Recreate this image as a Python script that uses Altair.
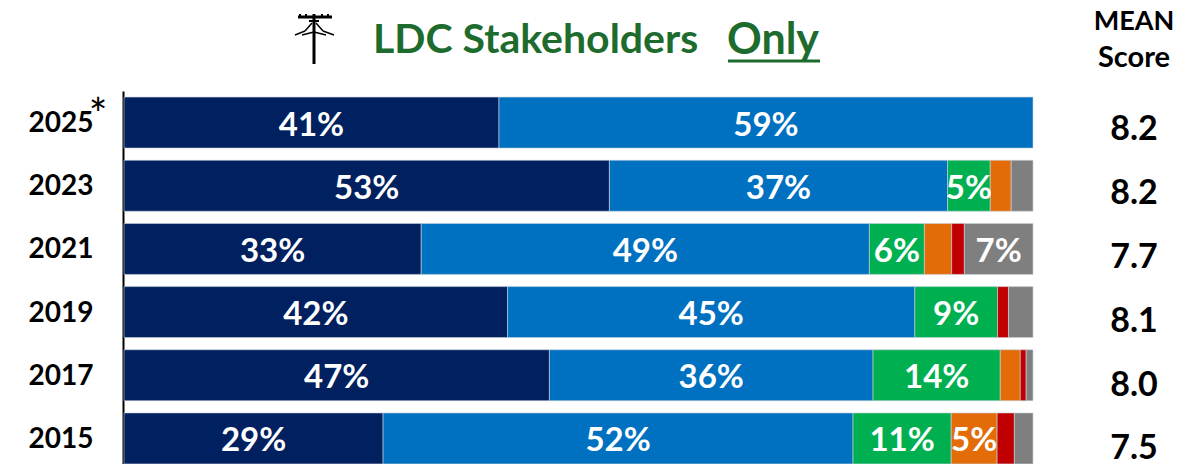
import altair as alt
import pandas as pd

years = ["2025", "2023", "2021", "2019", "2017", "2015"]
means = ["8.2", "8.2", "7.7", "8.1", "8.0", "7.5"]
cats = ["a", "b", "c", "d", "e", "f"]
colors = ["#002060", "#0070C0", "#00B050", "#E36C09", "#C00000", "#7F7F7F"]
v2025 = [41.25, 58.75, 0, 0, 0, 0]
v2023 = [53.4, 37.2, 4.7, 2.3, 0, 2.4]
v2021 = [32.7, 49.3, 6.05, 3.0, 1.4, 7.55]
v2019 = [42.2, 44.8, 9.1, 0, 1.2, 2.7]
v2017 = [46.8, 35.6, 14.0, 2.2, 0.65, 0.75]
v2015 = [28.5, 51.7, 10.8, 5.05, 1.9, 2.05]
l2025 = ["41%", "59%", "", "", "", ""]
l2023 = ["53%", "37%", "5%", "", "", ""]
l2021 = ["33%", "49%", "6%", "", "", "7%"]
l2019 = ["42%", "45%", "9%", "", "", ""]
l2017 = ["47%", "36%", "14%", "", "", ""]
l2015 = ["29%", "52%", "11%", "5%", "", ""]

rows = []
for y, vs, ls in zip(years, [v2025, v2023, v2021, v2019, v2017, v2015],
                     [l2025, l2023, l2021, l2019, l2017, l2015]):
    for i, (c, v, l) in enumerate(zip(cats, vs, ls)):
        rows.append({"year": y, "cat": c, "ord": i, "v": v, "lab": l})
df = pd.DataFrame(rows)
df = df[df.v > 0]

FONT = "Lato"
yenc = alt.Y("year:N", sort=years, title=None,
             scale=alt.Scale(paddingInner=0.193, paddingOuter=0.0965),
             axis=alt.Axis(domainColor="#000000", domainWidth=2, ticks=False, grid=False,
                           labelFont=FONT, labelFontSize=28, labelFontWeight="bold",
                           labelColor="#000000", labelPadding=30, labelOffset=1.5, offset=1))
xscale = alt.Scale(domain=[0, 100], nice=False, zero=False)
base = alt.Chart(df).transform_stack(stack="v", as_=["x0", "x1"], groupby=["year"],
                                     sort=[alt.SortField("ord", order="ascending")]
                                     ).transform_calculate(mid="(datum.x0+datum.x1)/2")
bars = base.mark_bar(stroke="#c9d3de", strokeWidth=0.6).encode(
    x=alt.X("x0:Q", scale=xscale, axis=None), x2="x1:Q", y=yenc,
    color=alt.Color("cat:N", scale=alt.Scale(domain=cats, range=colors), legend=None))
labels = base.mark_text(font=FONT, fontSize=33, fontWeight="bold", color="white", baseline="middle", dy=3).encode(
    x=alt.X("mid:Q", scale=xscale, axis=None), y=alt.Y("year:N", sort=years), text="lab:N")

# the score column runs on a slightly larger step than the bars
score_dy = [7, 8, 9.5, 9.5, 10.5, 10.5]
score_layers = [
    alt.Chart(pd.DataFrame({"year": [y], "mean": [m]})).mark_text(
        font=FONT, fontSize=34, fontWeight="bold", color="#000000", baseline="middle", dy=d
    ).encode(x=alt.value(1010), y=alt.Y("year:N", sort=years), text="mean:N")
    for y, m, d in zip(years, means, score_dy)
]


def note(txt, x, y, size=30, color="#000000", weight="bold", align="center"):
    return alt.Chart(pd.DataFrame({"t": [txt]})).mark_text(
        font=FONT, fontSize=size, fontWeight=weight, color=color, align=align, baseline="middle"
    ).encode(x=alt.value(x), y=alt.value(y), text="t:N")


def seg(x, y, x2, y2, w, color="#000000"):
    return alt.Chart(pd.DataFrame({"a": [0]})).mark_rule(color=color, strokeWidth=w).encode(
        x=alt.value(x), x2=alt.value(x2), y=alt.value(y), y2=alt.value(y2))


# offsets are relative to plot origin (124, 91)
title1 = note("LDC Stakeholders", 249, -50, size=41, color="#1E6B2E", align="left")
title2 = note("Only", 603, -50, size=43, color="#1E6B2E", align="left")
under = seg(604, -30, 696, -30, 3, "#1E6B2E")
mean1 = note("MEAN", 1010, -69, size=27)
mean2 = note("Score", 1010, -33, size=29)
star = note("*", -26, 26, size=44, weight="normal")
X0 = -124
icon = [
    seg(X0 + 314, -77, X0 + 314, -27, 3),
    seg(X0 + 298, -74, X0 + 332, -74, 3),
    seg(X0 + 300, -77, X0 + 300, -74, 2),
    seg(X0 + 306, -77, X0 + 306, -74, 2),
    seg(X0 + 322, -77, X0 + 322, -74, 2),
    seg(X0 + 328, -77, X0 + 328, -74, 2),
    seg(X0 + 309, -70, X0 + 319, -70, 2),
    seg(X0 + 312, -68, X0 + 305, -60, 1.5),
    seg(X0 + 305, -60, X0 + 295, -56, 1.5),
    seg(X0 + 316, -68, X0 + 323, -60, 1.5),
    seg(X0 + 323, -60, X0 + 334, -56, 1.5),
    seg(X0 + 314, -59, X0 + 302, -56, 1.5),
    seg(X0 + 314, -59, X0 + 326, -56, 1.5),
]

chart = alt.layer(bars, labels, *score_layers, title1, title2, under, mean1, mean2, star, *icon).properties(
    width=909, height=379,
    autosize=alt.AutoSizeParams(type="none"),
    padding={"left": 116, "top": 83, "right": 153, "bottom": 0},
).configure_view(stroke=None)

chart.save("out.html", embed_options={"renderer": "svg", "actions": False})
